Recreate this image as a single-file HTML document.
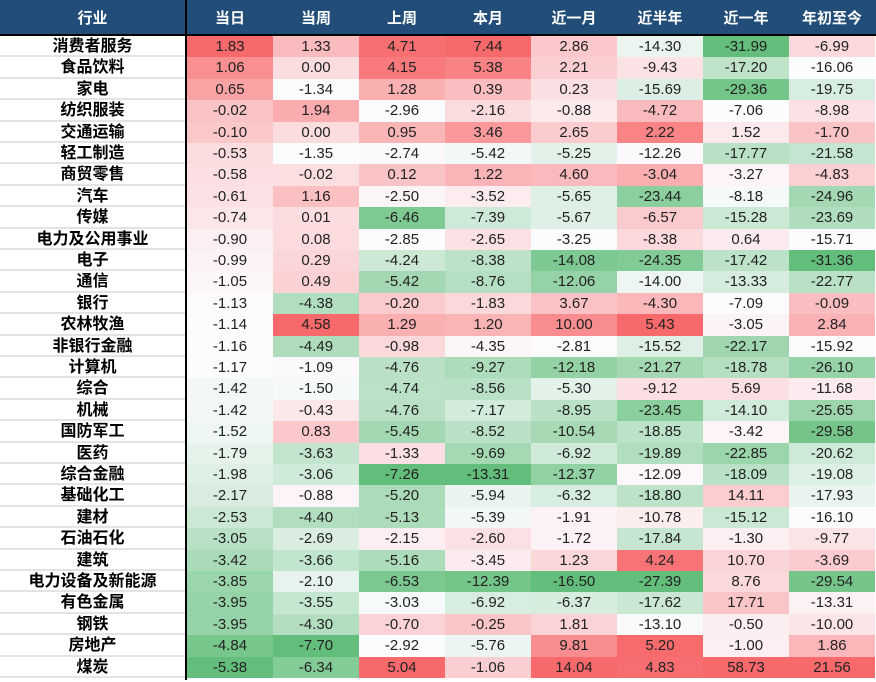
<!DOCTYPE html>
<html><head><meta charset="utf-8"><style>
body{margin:0;width:876px;height:682px;background:#fff;overflow:hidden;font-family:"Liberation Sans","Noto Sans CJK SC",sans-serif;position:relative}
#hdr{position:absolute;left:0;top:0;width:876px;height:34px;background:#214d78}
.h{position:absolute;top:0;height:34px;line-height:38px;color:#fff;font-size:15px;font-weight:bold;text-align:center}
.c{position:absolute;font-size:15px;color:#222;text-align:center;box-sizing:border-box}
.n{position:absolute;font-size:16px;font-weight:bold;color:#000;text-align:center;background:#fff;box-sizing:border-box}
</style></head><body>
<div id="hdr"></div>
<div id="t"></div>
<div style="position:absolute;left:185px;top:0;width:2px;height:680px;background:#000"></div>
<div style="position:absolute;left:0;top:34px;width:876px;height:2px;background:#000"></div>
<script>
const headers=["行业","当日","当周","上周","本月","近一月","近半年","近一年","年初至今"];
const industries=["消费者服务","食品饮料","家电","纺织服装","交通运输","轻工制造","商贸零售","汽车","传媒","电力及公用事业","电子","通信","银行","农林牧渔","非银行金融","计算机","综合","机械","国防军工","医药","综合金融","基础化工","建材","石油石化","建筑","电力设备及新能源","有色金属","钢铁","房地产","煤炭"];
const colDay=[1.83,1.06,0.65,-0.02,-0.10,-0.53,-0.58,-0.61,-0.74,-0.90,-0.99,-1.05,-1.13,-1.14,-1.16,-1.17,-1.42,-1.42,-1.52,-1.79,-1.98,-2.17,-2.53,-3.05,-3.42,-3.85,-3.95,-3.95,-4.84,-5.38];
const colWeek=[1.33,0.00,-1.34,1.94,0.00,-1.35,-0.02,1.16,0.01,0.08,0.29,0.49,-4.38,4.58,-4.49,-1.09,-1.50,-0.43,0.83,-3.63,-3.06,-0.88,-4.40,-2.69,-3.66,-2.10,-3.55,-4.30,-7.70,-6.34];
const colLastWeek=[4.71,4.15,1.28,-2.96,0.95,-2.74,0.12,-2.50,-6.46,-2.85,-4.24,-5.42,-0.20,1.29,-0.98,-4.76,-4.74,-4.76,-5.45,-1.33,-7.26,-5.20,-5.13,-2.15,-5.16,-6.53,-3.03,-0.70,-2.92,5.04];
const colMonth=[7.44,5.38,0.39,-2.16,3.46,-5.42,1.22,-3.52,-7.39,-2.65,-8.38,-8.76,-1.83,1.20,-4.35,-9.27,-8.56,-7.17,-8.52,-9.69,-13.31,-5.94,-5.39,-2.60,-3.45,-12.39,-6.92,-0.25,-5.76,-1.06];
const col1M=[2.86,2.21,0.23,-0.88,2.65,-5.25,4.60,-5.65,-5.67,-3.25,-14.08,-12.06,3.67,10.00,-2.81,-12.18,-5.30,-8.95,-10.54,-6.92,-12.37,-6.32,-1.91,-1.72,1.23,-16.50,-6.37,1.81,9.81,14.04];
const col6M=[-14.30,-9.43,-15.69,-4.72,2.22,-12.26,-3.04,-23.44,-6.57,-8.38,-24.35,-14.00,-4.30,5.43,-15.52,-21.27,-9.12,-23.45,-18.85,-19.89,-12.09,-18.80,-10.78,-17.84,4.24,-27.39,-17.62,-13.10,5.20,4.83];
const col1Y=[-31.99,-17.20,-29.36,-7.06,1.52,-17.77,-3.27,-8.18,-15.28,0.64,-17.42,-13.33,-7.09,-3.05,-22.17,-18.78,5.69,-14.10,-3.42,-22.85,-18.09,14.11,-15.12,-1.30,10.70,8.76,17.71,-0.50,-1.00,58.73];
const colYTD=[-6.99,-16.06,-19.75,-8.98,-1.70,-21.58,-4.83,-24.96,-23.69,-15.71,-31.36,-22.77,-0.09,2.84,-15.92,-26.10,-11.68,-25.65,-29.58,-20.62,-19.08,-17.93,-16.10,-9.77,-3.69,-29.54,-13.31,-10.00,1.86,21.56];
const cols=[colDay,colWeek,colLastWeek,colMonth,col1M,col6M,col1Y,colYTD];
const colNames=["day","week","last-week","month","1m","6m","1y","ytd"];
const X0=187,CW=86,Y0=36,RH=21.4;
const R=[248,105,107],W=[252,252,255],G=[99,190,123];
function mix(a,b,t){return 'rgb('+a.map((v,i)=>Math.round(v+(b[i]-v)*t)).join(',')+')';}
function colorFor(v,arr){
  const s=[...arr].sort((a,b)=>a-b),mn=s[0],mx=s[s.length-1];
  const n=s.length,p=(n-1)*0.5,med=s[Math.floor(p)]+(s[Math.ceil(p)]-s[Math.floor(p)])*(p-Math.floor(p));
  if(v>=med)return mix(W,R,mx===med?0:(v-med)/(mx-med));
  return mix(W,G,mn===med?0:(med-v)/(med-mn));
}
const hdr=document.getElementById('hdr');
headers.forEach((h,i)=>{
  const d=document.createElement('div');d.className='h';
  
  
  d.style.left=(i===0?0:X0+(i-1)*CW)+'px';d.style.width=(i===0?185:CW)+'px';
  d.textContent=h;hdr.appendChild(d);
});
const t=document.getElementById('t');
industries.forEach((name,r)=>{
  const y=Y0+r*RH;
  const n=document.createElement('div');n.className='n';
  
  
  n.style.cssText=`left:0;top:${y}px;width:185px;height:${RH}px;line-height:${RH}px;border-bottom:2px solid #e3e3e3`;
  n.textContent=name;t.appendChild(n);
  cols.forEach((arr,c)=>{
    const v=arr[r];
    const d=document.createElement('div');d.className='c';
    
    
    d.style.cssText=`left:${X0+c*CW}px;top:${y}px;width:${CW}px;height:${RH}px;line-height:${RH+1}px;background:${colorFor(v,arr)}`;
    d.textContent=v.toFixed(2);t.appendChild(d);
  });
});
</script>
</body></html>
